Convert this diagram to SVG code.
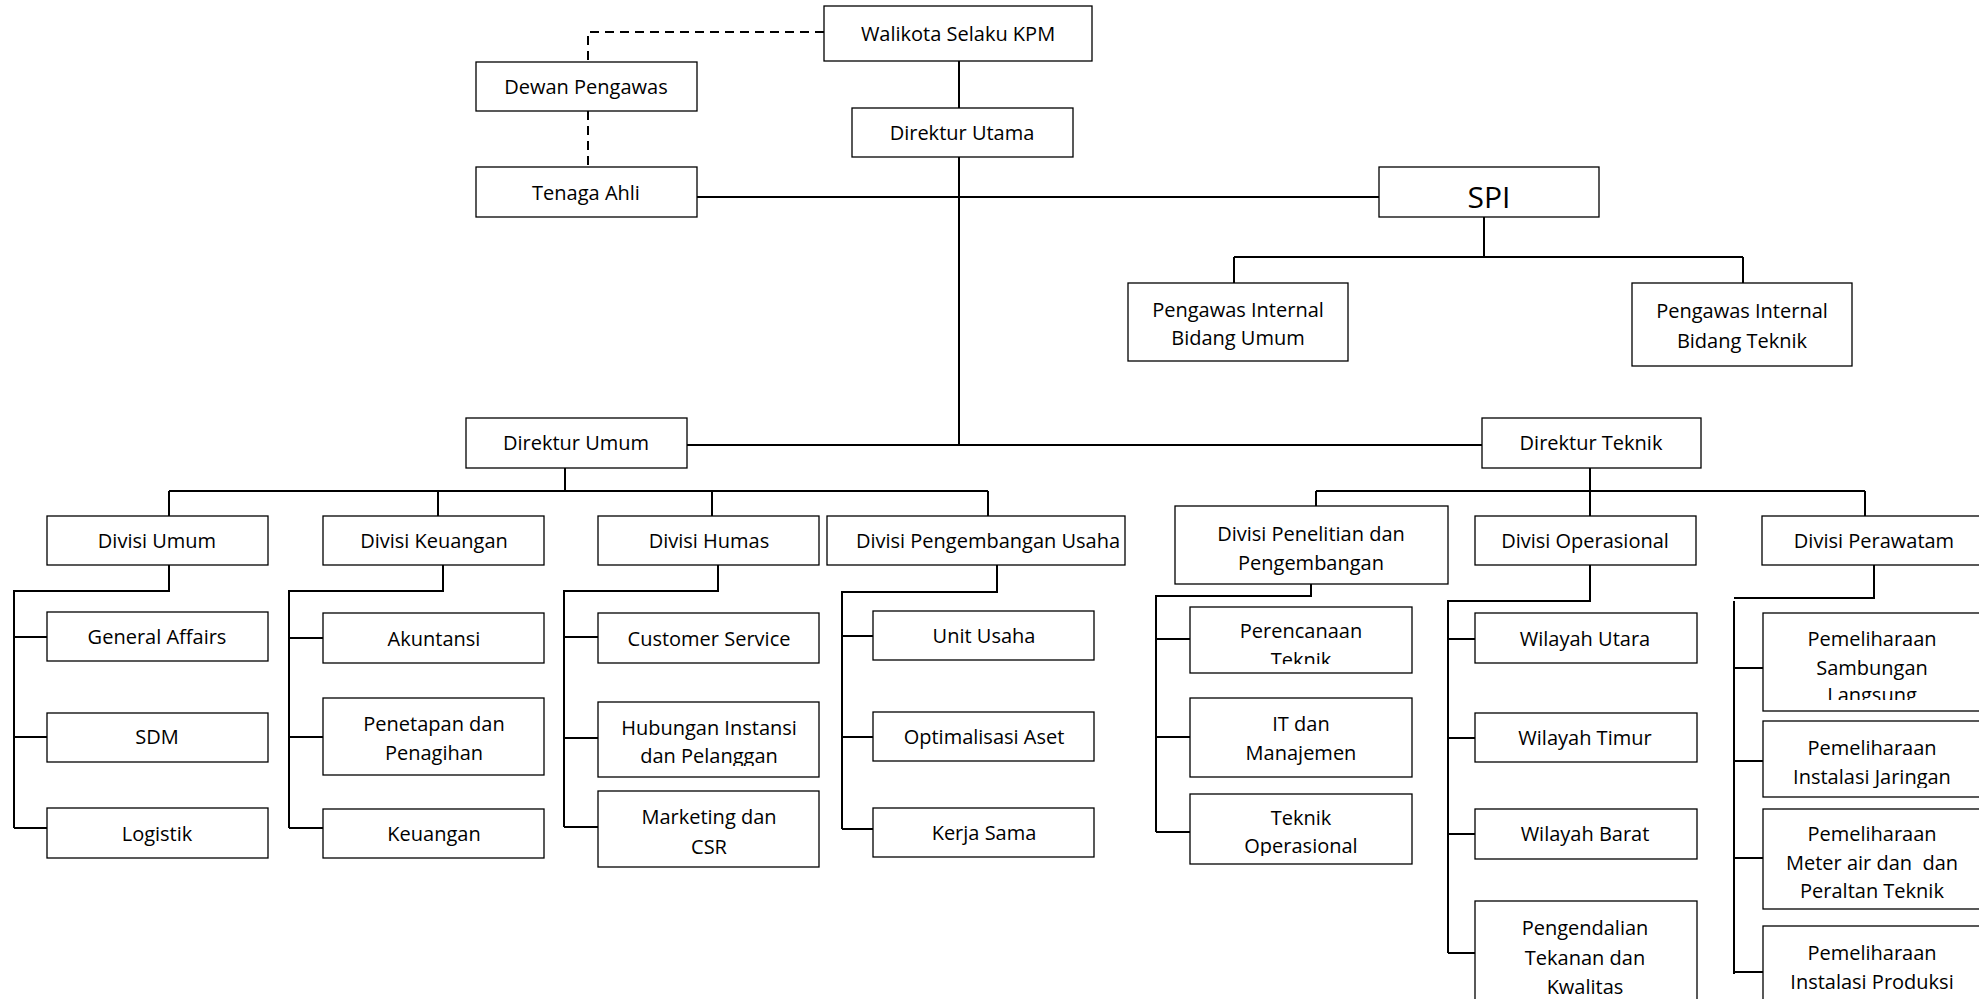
<svg xmlns="http://www.w3.org/2000/svg" width="1979" height="999" viewBox="0 0 1979 999">
<style>
.b{fill:#fff;stroke:#000;stroke-width:1.3}
.c{fill:none;stroke:#000;stroke-width:2}
.d{fill:none;stroke:#000;stroke-width:2;stroke-dasharray:9 6}
text{font-family:"Open Sans",Lato,"Liberation Sans",sans-serif;font-size:20px;fill:#000;text-anchor:middle}
.big{font-size:30px}
</style>
<defs>
<clipPath id="cpHub"><rect x="598" y="702" width="221" height="64"/></clipPath>
<clipPath id="cpPer"><rect x="1190" y="607" width="222" height="57"/></clipPath>
<clipPath id="cpTek"><rect x="1190" y="794" width="222" height="62"/></clipPath>
<clipPath id="cpSam"><rect x="1763" y="613" width="220" height="87"/></clipPath>
<clipPath id="cpJar"><rect x="1763" y="721" width="220" height="67"/></clipPath>
</defs>
<rect width="1979" height="999" fill="#fff"/>
<g id="connectors">
<path class="d" d="M824 32 H588 V62 M588 111 V167"/>
<path class="c" d="M959 61 V108 M959 157 V445 M697 197 H1379 M687 445 H1482"/>
<path class="c" d="M1484 217 V257 M1234 257 H1743 M1234 257 V283 M1743 257 V283"/>
<path class="c" d="M565 468 V491 M169 491 H988 M169 491 V516 M438 491 V516 M712 491 V516 M988 491 V516"/>
<path class="c" d="M1590 468 V516 M1316 491 H1865 M1316 491 V506 M1865 491 V516"/>
<path class="c" d="M169 565 V591 H14 V828 M14 637 H47 M14 737 H47 M14 828 H47"/>
<path class="c" d="M443 565 V591 H289 V828 M289 638 H323 M289 737 H323 M289 828 H323"/>
<path class="c" d="M718 565 V591 H564 V827 M564 637 H598 M564 738 H598 M564 827 H598"/>
<path class="c" d="M997 565 V592 H842 V829 M842 636 H873 M842 737 H873 M842 829 H873"/>
<path class="c" d="M1311 584 V596 H1156 V832 M1156 639 H1190 M1156 737 H1190 M1156 832 H1190"/>
<path class="c" d="M1590 565 V601 H1448 V953 M1448 639 H1475 M1448 738 H1475 M1448 834 H1475 M1448 953 H1475"/>
<path class="c" d="M1874 565 V598 H1734 M1734 601 V974 M1734 668 H1763 M1734 761 H1763 M1734 858 H1763 M1734 972 H1763"/>
</g>
<g id="walikota"><rect class="b" x="824" y="6" width="268" height="55"/><text x="958" y="41">Walikota Selaku KPM</text></g>
<g id="dewan"><rect class="b" x="476" y="62" width="221" height="49"/><text x="586" y="94">Dewan Pengawas</text></g>
<g id="dirut"><rect class="b" x="852" y="108" width="221" height="49"/><text x="962" y="140">Direktur Utama</text></g>
<g id="tenaga"><rect class="b" x="476" y="167" width="221" height="50"/><text x="586" y="200">Tenaga Ahli</text></g>
<g id="spi"><rect class="b" x="1379" y="167" width="220" height="50"/><text class="big" x="1489" y="208">SPI</text></g>
<g id="piumum"><rect class="b" x="1128" y="283" width="220" height="78"/><text x="1238" y="317">Pengawas Internal</text><text x="1238" y="345">Bidang Umum</text></g>
<g id="piteknik"><rect class="b" x="1632" y="283" width="220" height="83"/><text x="1742" y="318">Pengawas Internal</text><text x="1742" y="348">Bidang Teknik</text></g>
<g id="dirumum"><rect class="b" x="466" y="418" width="221" height="50"/><text x="576" y="450">Direktur Umum</text></g>
<g id="dirteknik"><rect class="b" x="1482" y="418" width="219" height="50"/><text x="1591" y="450">Direktur Teknik</text></g>
<g id="divumum"><rect class="b" x="47" y="516" width="221" height="49"/><text x="157" y="548">Divisi Umum</text></g>
<g id="divkeu"><rect class="b" x="323" y="516" width="221" height="49"/><text x="434" y="548">Divisi Keuangan</text></g>
<g id="divhumas"><rect class="b" x="598" y="516" width="221" height="49"/><text x="709" y="548">Divisi Humas</text></g>
<g id="divpu"><rect class="b" x="827" y="516" width="298" height="49"/><text x="988" y="548">Divisi Pengembangan Usaha</text></g>
<g id="divlit"><rect class="b" x="1175" y="506" width="273" height="78"/><text x="1311" y="541">Divisi Penelitian dan</text><text x="1311" y="570">Pengembangan</text></g>
<g id="divops"><rect class="b" x="1475" y="516" width="221" height="49"/><text x="1585" y="548">Divisi Operasional</text></g>
<g id="divrawat"><rect class="b" x="1762" y="516" width="222" height="49"/><text x="1874" y="548">Divisi Perawatam</text></g>
<g id="ga"><rect class="b" x="47" y="612" width="221" height="49"/><text x="157" y="644">General Affairs</text></g>
<g id="sdm"><rect class="b" x="47" y="713" width="221" height="49"/><text x="157" y="744">SDM</text></g>
<g id="logistik"><rect class="b" x="47" y="808" width="221" height="50"/><text x="157" y="841">Logistik</text></g>
<g id="akuntansi"><rect class="b" x="323" y="613" width="221" height="50"/><text x="434" y="646">Akuntansi</text></g>
<g id="penetapan"><rect class="b" x="323" y="698" width="221" height="77"/><text x="434" y="731">Penetapan dan</text><text x="434" y="760">Penagihan</text></g>
<g id="keuangan"><rect class="b" x="323" y="809" width="221" height="49"/><text x="434" y="841">Keuangan</text></g>
<g id="cs"><rect class="b" x="598" y="613" width="221" height="50"/><text x="709" y="646">Customer Service</text></g>
<g id="hubungan"><rect class="b" x="598" y="702" width="221" height="75"/><g clip-path="url(#cpHub)"><text x="709" y="735">Hubungan Instansi</text><text x="709" y="763">dan Pelanggan</text></g></g>
<g id="marketing"><rect class="b" x="598" y="791" width="221" height="76"/><text x="709" y="824">Marketing dan</text><text x="709" y="854">CSR</text></g>
<g id="unitusaha"><rect class="b" x="873" y="611" width="221" height="49"/><text x="984" y="643">Unit Usaha</text></g>
<g id="optimalisasi"><rect class="b" x="873" y="712" width="221" height="49"/><text x="984" y="744">Optimalisasi Aset</text></g>
<g id="kerjasama"><rect class="b" x="873" y="808" width="221" height="49"/><text x="984" y="840">Kerja Sama</text></g>
<g id="perencanaan"><rect class="b" x="1190" y="607" width="222" height="66"/><g clip-path="url(#cpPer)"><text x="1301" y="638">Perencanaan</text><text x="1301" y="667">Teknik</text></g></g>
<g id="itman"><rect class="b" x="1190" y="698" width="222" height="79"/><text x="1301" y="731">IT dan</text><text x="1301" y="760">Manajemen</text></g>
<g id="teknikops"><rect class="b" x="1190" y="794" width="222" height="70"/><g clip-path="url(#cpTek)"><text x="1301" y="825">Teknik</text><text x="1301" y="853">Operasional</text></g></g>
<g id="utara"><rect class="b" x="1475" y="613" width="222" height="50"/><text x="1585" y="646">Wilayah Utara</text></g>
<g id="timur"><rect class="b" x="1475" y="713" width="222" height="49"/><text x="1585" y="745">Wilayah Timur</text></g>
<g id="barat"><rect class="b" x="1475" y="809" width="222" height="50"/><text x="1585" y="841">Wilayah Barat</text></g>
<g id="pengendalian"><rect class="b" x="1475" y="901" width="222" height="110"/><text x="1585" y="935">Pengendalian</text><text x="1585" y="965">Tekanan dan</text><text x="1585" y="994">Kwalitas</text></g>
<g id="sambungan"><rect class="b" x="1763" y="613" width="220" height="98"/><g clip-path="url(#cpSam)"><text x="1872" y="646">Pemeliharaan</text><text x="1872" y="675">Sambungan</text><text x="1872" y="702">Langsung</text></g></g>
<g id="jaringan"><rect class="b" x="1763" y="721" width="220" height="76"/><g clip-path="url(#cpJar)"><text x="1872" y="755">Pemeliharaan</text><text x="1872" y="784">Instalasi Jaringan</text></g></g>
<g id="meter"><rect class="b" x="1763" y="809" width="220" height="100"/><text x="1872" y="841">Pemeliharaan</text><text x="1872" y="870" xml:space="preserve">Meter air dan  dan</text><text x="1872" y="898">Peraltan Teknik</text></g>
<g id="produksi"><rect class="b" x="1763" y="926" width="220" height="85"/><text x="1872" y="960">Pemeliharaan</text><text x="1872" y="989">Instalasi Produksi</text></g>
</svg>
